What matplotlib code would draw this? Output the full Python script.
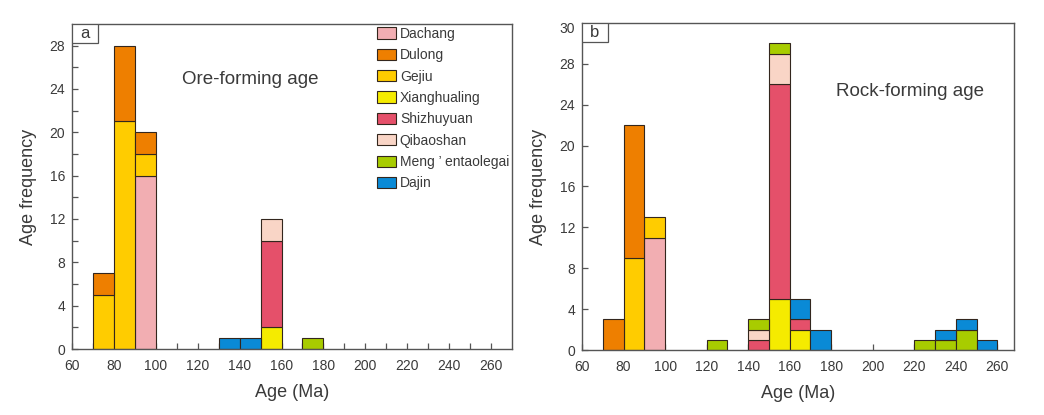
import numpy as np
import matplotlib.pyplot as plt
from matplotlib.patches import Patch, Rectangle

plt.rcParams['font.family'] = ['Liberation Sans', 'DejaVu Sans']

bins = [70, 80, 90, 100, 110, 120, 130, 140, 150, 160,
        170, 180, 190, 200, 210, 220, 230, 240, 250]

deposits = ['Dachang', 'Dulong', 'Gejiu', 'Xianghualing', 'Shizhuyuan',
            'Qibaoshan', 'Meng \u2019 entaolegai', 'Dajin']
colors = ['#F2AEB2', '#EE7F00', '#FFCC00', '#F5EB00', '#E5506A',
          '#F9D5C6', '#A8CC00', '#0A8AD6']

# stacking order, bottom to top
stack_order = ['Dachang', 'Gejiu', 'Dulong', 'Xianghualing', 'Shizhuyuan',
               'Qibaoshan', 'Meng \u2019 entaolegai', 'Dajin']

#               70 80 90 100 110 120 130 140 150 160 170 180 190 200 210 220 230 240 250
ore_dachang   = [0, 0, 16, 0, 0, 0, 0, 0, 0, 0, 0, 0, 0, 0, 0, 0, 0, 0, 0]
ore_dulong    = [2, 7, 2, 0, 0, 0, 0, 0, 0, 0, 0, 0, 0, 0, 0, 0, 0, 0, 0]
ore_gejiu     = [5, 21, 2, 0, 0, 0, 0, 0, 0, 0, 0, 0, 0, 0, 0, 0, 0, 0, 0]
ore_xiang     = [0, 0, 0, 0, 0, 0, 0, 0, 2, 0, 0, 0, 0, 0, 0, 0, 0, 0, 0]
ore_shizhu    = [0, 0, 0, 0, 0, 0, 0, 0, 8, 0, 0, 0, 0, 0, 0, 0, 0, 0, 0]
ore_qibao     = [0, 0, 0, 0, 0, 0, 0, 0, 2, 0, 0, 0, 0, 0, 0, 0, 0, 0, 0]
ore_meng      = [0, 0, 0, 0, 0, 0, 0, 0, 0, 0, 1, 0, 0, 0, 0, 0, 0, 0, 0]
ore_dajin     = [0, 0, 0, 0, 0, 0, 1, 1, 0, 0, 0, 0, 0, 0, 0, 0, 0, 0, 0]

rock_dachang  = [0, 0, 11, 0, 0, 0, 0, 0, 0, 0, 0, 0, 0, 0, 0, 0, 0, 0, 0]
rock_dulong   = [3, 13, 0, 0, 0, 0, 0, 0, 0, 0, 0, 0, 0, 0, 0, 0, 0, 0, 0]
rock_gejiu    = [0, 9, 2, 0, 0, 0, 0, 0, 0, 0, 0, 0, 0, 0, 0, 0, 0, 0, 0]
rock_xiang    = [0, 0, 0, 0, 0, 0, 0, 0, 5, 2, 0, 0, 0, 0, 0, 0, 0, 0, 0]
rock_shizhu   = [0, 0, 0, 0, 0, 0, 0, 1, 21, 1, 0, 0, 0, 0, 0, 0, 0, 0, 0]
rock_qibao    = [0, 0, 0, 0, 0, 0, 0, 1, 3, 0, 0, 0, 0, 0, 0, 0, 0, 0, 0]
rock_meng     = [0, 0, 0, 0, 0, 1, 0, 1, 1, 0, 0, 0, 0, 0, 0, 1, 1, 2, 0]
rock_dajin    = [0, 0, 0, 0, 0, 0, 0, 0, 0, 2, 2, 0, 0, 0, 0, 0, 1, 1, 1]

# y tick labels as printed on each panel
ore_yticks = [0, 4, 8, 12, 16, 20, 24, 28]
rock_yticks = [0, 4, 8, 12, 16, 20, 24, 28, 31.6]
rock_yticklabels = ['0', '4', '8', '12', '16', '20', '24', '28', '30']

ore = dict(zip(deposits, [ore_dachang, ore_dulong, ore_gejiu, ore_xiang,
                          ore_shizhu, ore_qibao, ore_meng, ore_dajin]))
rock = dict(zip(deposits, [rock_dachang, rock_dulong, rock_gejiu, rock_xiang,
                           rock_shizhu, rock_qibao, rock_meng, rock_dajin]))
color_of = dict(zip(deposits, colors))

TXT = '#3a3a3a'
SPINE = '#555555'
EDGE = '#33261d'


def draw_panel(ax, data, label, title, title_xy, xmax, ymax, yticks, yticklabels, minor):
    x = np.array(bins)
    bottom = np.zeros(len(bins))
    for name in stack_order:
        h = np.array(data[name], dtype=float)
        m = h > 0
        ax.bar(x[m], h[m], width=10, bottom=bottom[m], align='edge',
               color=color_of[name], edgecolor=EDGE, linewidth=0.8, zorder=2)
        bottom += h
    ax.set_xlim(60, xmax)
    ax.set_ylim(0, ymax)
    ax.set_xticks(np.arange(60, 261, 20))
    ax.set_yticks(yticks, labels=yticklabels)
    if minor:
        ax.set_xticks(np.arange(70, 261, 20), minor=True)
        ax.set_yticks(np.arange(2, 30, 4), minor=True)
    ax.tick_params(which='both', direction='in', colors=SPINE, labelcolor=TXT,
                   labelsize=10, width=0.9, length=4)
    ax.tick_params(axis='x', which='both', pad=7)
    ax.tick_params(axis='y', which='both', pad=5)
    for s in ax.spines.values():
        s.set_color(SPINE)
        s.set_linewidth(1.0)
    ax.set_xlabel('Age (Ma)', fontsize=13, color=TXT, labelpad=8)
    ax.set_ylabel('Age frequency', fontsize=13, color=TXT, labelpad=9)
    # panel letter in a small box at the top-left corner
    bw = 26 / (ax.get_position().width * 1044)
    bh = 19 / (ax.get_position().height * 415)
    ax.add_patch(Rectangle((0, 1 - bh), bw, bh, transform=ax.transAxes,
                           fc='white', ec=SPINE, lw=0.9, zorder=3))
    ax.text(bw / 2, 1 - bh / 2, label, transform=ax.transAxes, ha='center',
            va='center', fontsize=12, color=TXT, zorder=4)
    ax.text(title_xy[0], title_xy[1], title, transform=ax.transAxes,
            ha='center', va='center', fontsize=13.5, color=TXT)


fig = plt.figure(figsize=(10.44, 4.15), dpi=100)
ax1 = fig.add_axes([72 / 1044, 1 - 349 / 415, (512 - 72) / 1044, (349 - 24) / 415])
ax2 = fig.add_axes([582 / 1044, 1 - 350 / 415, (1014 - 582) / 1044, (350 - 23) / 415])

draw_panel(ax1, ore, 'a', 'Ore-forming age', (0.405, 0.83), 270, 30,
           ore_yticks, [str(v) for v in ore_yticks], True)
draw_panel(ax2, rock, 'b', 'Rock-forming age', (0.76, 0.79), 268, 32,
           rock_yticks, rock_yticklabels, False)
# the top "30" label carries no tick mark
ax2.yaxis.get_major_ticks()[-1].tick1line.set_visible(False)

handles = [Patch(facecolor=color_of[n], edgecolor=EDGE, linewidth=0.8)
           for n in deposits]
ax1.legend(handles, deposits, loc='upper right', bbox_to_anchor=(1.0, 1.0),
           frameon=False, fontsize=10, labelcolor=TXT, handlelength=1.37,
           handleheight=0.86, handletextpad=0.3, labelspacing=0.53,
           borderaxespad=0.0, borderpad=0.2)

fig.savefig('out.png', dpi=100, facecolor='white')
